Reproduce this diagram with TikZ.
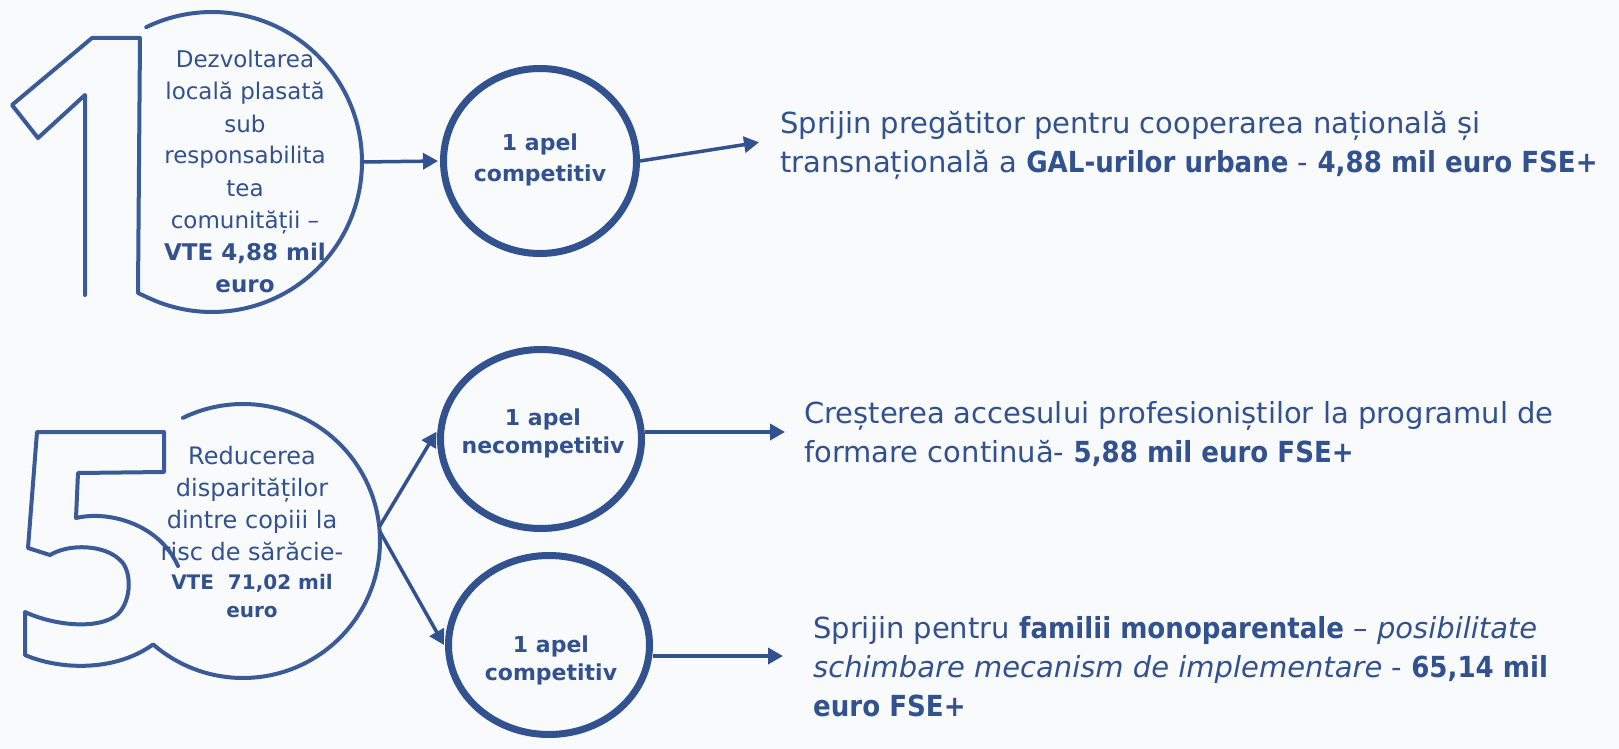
\documentclass[tikz,border=0pt]{standalone}
\usepackage{fontspec}
\setmainfont{DejaVu Sans}
\newfontfamily\rtfont{DejaVu Sans}[BoldFeatures={FakeStretch=0.9}]
\usetikzlibrary{arrows.meta,shapes.geometric}
\definecolor{myblue}{RGB}{50,81,143}
\definecolor{outl}{RGB}{58,91,152}
\definecolor{bg}{RGB}{249,250,251}
\begin{document}
\begin{tikzpicture}[x=1pt,y=-1pt,
  outline/.style={draw=outl, line width=4pt, line join=round, line cap=round},
  apel/.style={ellipse, draw=myblue, line width=7pt, inner sep=0pt},
  arr/.style={draw=myblue, line width=3.5pt, shorten >=2pt, -{Triangle[length=15pt,width=16pt]}},
  bigtxt/.style={text=myblue, font=\fontsize{23}{28}\selectfont, anchor=base, inner sep=0pt},
  midtxt/.style={text=myblue, font=\fontsize{24}{28}\selectfont, anchor=base, inner sep=0pt},
  smalltxt/.style={text=myblue, font=\fontsize{20}{24}\selectfont\bfseries, anchor=base, inner sep=0pt},
  apeltxt/.style={text=myblue, font=\fontsize{22}{26}\selectfont\bfseries, anchor=base, inner sep=0pt},
  righttxt/.style={text=myblue, font=\rtfont\fontsize{29}{35}\selectfont, anchor=base west, inner sep=0pt}
]
\useasboundingbox (0,0) rectangle (1619,749);
\fill[bg] (0,0) rectangle (1619,749);

% big circles (invisible nodes for anchors)
\node[circle, minimum size=300pt, inner sep=0pt] (c1) at (212,162) {};
\node[circle, minimum size=274pt, inner sep=0pt] (c5) at (243,541) {};

% outline "1" with its circle
\draw[outline] plot[smooth, domain=-116:115, samples=80] ({212+150*cos(\x)},{162+150*sin(\x)})
  -- (138,293) -- (140,38) -- (92,38) -- (12,105) -- (38,138) -- (85,95) -- (85,295);

% outline "5" with its circle
\draw[outline] plot[smooth, domain=-116:131, samples=80] ({243+137*cos(\x)},{541+137*sin(\x)})
  .. controls (115,672) and (60,670) .. (25,655) -- (25,612)
  .. controls (55,626) and (100,630) .. (118,614)
  .. controls (132,600) and (132,570) .. (120,560)
  .. controls (105,545) and (70,543) .. (50,555)
  -- (28,548) -- (37,432) -- (164,432) -- (164,472) -- (78,473) -- (76,518)
  .. controls (110,510) and (160,525) .. (178,566);

% text in big circle 1
\node[bigtxt] (a1) at (245,68) {Dezvoltarea};
\node[bigtxt] (a2) at (245,100) {locală plasată};
\node[bigtxt] (a3) at (245,132) {sub};
\node[bigtxt] (a4) at (245,164) {responsabilita};
\node[bigtxt] (a5) at (245,196) {tea};
\node[bigtxt] (a6) at (245,228) {comunității –};
\node[bigtxt, font=\fontsize{23}{28}\selectfont\bfseries] (a7) at (245,260) {VTE 4,88 mil};
\node[bigtxt, font=\fontsize{23}{28}\selectfont\bfseries] (a8) at (245,292) {euro};

% text in big circle 5
\node[midtxt] (b1) at (252,464) {Reducerea};
\node[midtxt] (b2) at (252,496) {disparităților};
\node[midtxt] (b3) at (252,528) {dintre copiii la};
\node[midtxt] (b4) at (252,560) {risc de sărăcie-};
\node[smalltxt] (b5) at (252,589) {VTE~~71,02 mil};
\node[smalltxt] (b6) at (252,617) {euro};

% apel circles
\node[apel, minimum width=193pt, minimum height=185pt] (A) at (540,161) {};
\node[apel, minimum width=201pt, minimum height=179pt] (B) at (541,439) {};
\node[apel, minimum width=201pt, minimum height=179pt] (C) at (549,645) {};
\node[apeltxt] (A1) at (540,150) {1 apel};
\node[apeltxt] (A2) at (540,181) {competitiv};
\node[apeltxt] (B1) at (543,425) {1 apel};
\node[apeltxt] (B2) at (543,453) {necompetitiv};
\node[apeltxt] (C1) at (551,652) {1 apel};
\node[apeltxt] (C2) at (551,680) {competitiv};

% right texts
\node[righttxt] (r1) at (780,134) {Sprijin pregătitor pentru cooperarea națională și};
\node[righttxt] (r2) at (780,172) {transnațională a \textbf{GAL-urilor urbane} - \textbf{4,88 mil euro FSE+}};
\node[righttxt] (s1) at (804,423) {Creșterea accesului profesioniștilor la programul de};
\node[righttxt] (s2) at (804,462) {formare continuă- \textbf{5,88 mil euro FSE+}};
\node[righttxt] (u1) at (813,638) {Sprijin pentru \textbf{familii monoparentale} – \textit{posibilitate}};
\node[righttxt] (u2) at (813,677) {\textit{schimbare mecanism de implementare} - \textbf{65,14 mil}};
\node[righttxt] (u3) at (813,716) {\textbf{euro FSE+}};

% arrow end points
\coordinate (t1tip) at (761,142);
\coordinate (t2tip) at (787,432);
\coordinate (t3tip) at (785,656);

% connectors
\draw[arr] (c1.east) -- (A.west);
\draw[arr] (A.east) -- (t1tip);
\draw[arr] (c5.6) -- (B.175);
\draw[arr] (c5.4) -- (C.181);
\draw[arr] (B.east |- t2tip) -- (t2tip);
\draw[arr] (C.east |- t3tip) -- (t3tip);
\end{tikzpicture}
\end{document}
